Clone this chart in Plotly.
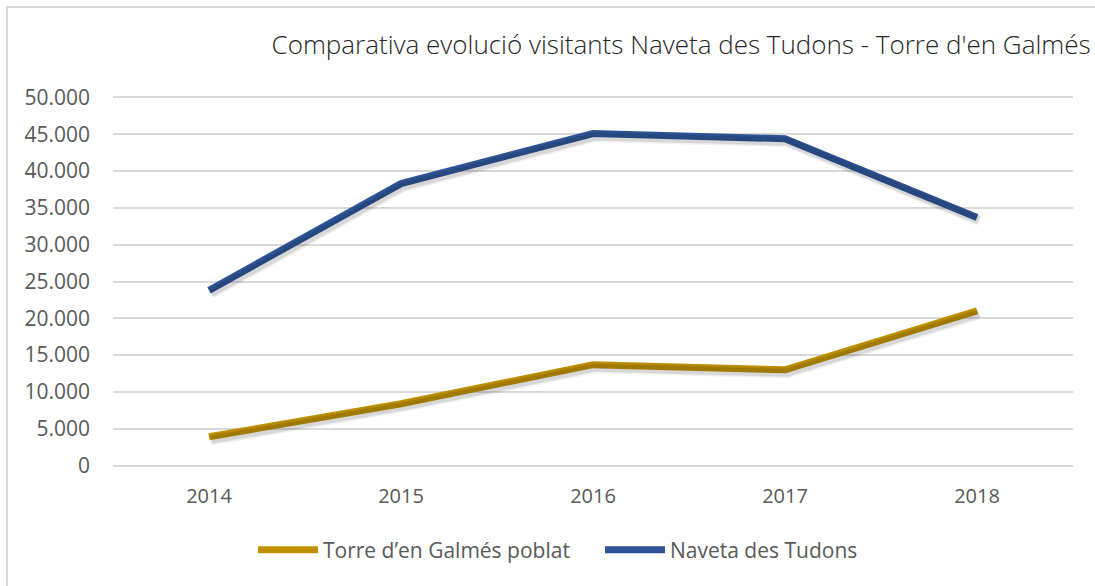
import plotly.graph_objects as go

# Visitor counts per year
years = ["2014", "2015", "2016", "2017", "2018"]
torre_galmes = [3900, 8400, 13700, 13000, 21000]
naveta_tudons = [23800, 38300, 45100, 44400, 33700]

series = [
    ("Torre d\u2019en Galmés poblat", torre_galmes, "#BF9000"),
    ("Naveta des Tudons", naveta_tudons, "#2F5597"),
]

W, H = 1095, 586
L, R, T, B = 113, 22, 96, 119
plot_w, plot_h = W - L - R, H - T - B
y_max = 50000
y_pad = 200  # keeps the 0 and 50.000 gridlines inside the plot area
y_range = [-y_pad, y_max + y_pad]
x_range = [-0.5, 4.5]

# small offset for the drop shadow (in pixels) converted to axis units
dx_px, dy_px = 2, 3
dx = dx_px * (x_range[1] - x_range[0]) / plot_w
dy = dy_px * (y_range[1] - y_range[0]) / plot_h

fig = go.Figure()

# soft shadows under the lines, drawn on slightly shifted overlay axes
for name, vals, color in series:
    for w, a in [(11, 0.06), (8, 0.10)]:
        fig.add_trace(go.Scatter(
            x=years, y=vals, mode="lines", xaxis="x2", yaxis="y2",
            line=dict(color=f"rgba(0,0,0,{a})", width=w),
            showlegend=False, hoverinfo="skip",
        ))

for name, vals, color in series:
    fig.add_trace(go.Scatter(
        x=years, y=vals, mode="lines", name=name,
        line=dict(color=color, width=7),
    ))

font_family = "Open Sans, Liberation Sans, sans-serif"

fig.update_layout(
    width=W, height=H,
    margin=dict(l=L, r=R, t=T, b=B),
    paper_bgcolor="white", plot_bgcolor="white",
    separators=",.",
    font=dict(family=font_family, size=20, color="#595959"),
    title=dict(
        text="Comparativa evolució visitants Naveta des Tudons - Torre d'en Galmés",
        xref="container", yref="container", x=0.622, y=1 - 45 / H,
        xanchor="center", yanchor="middle",
        font=dict(family=font_family, size=26, color="#262626", weight=300),
    ),
    xaxis=dict(
        type="category", range=x_range, showgrid=False, zeroline=False,
        showline=False, ticks="", ticklabelstandoff=15,
        tickfont=dict(size=20, color="#595959"),
    ),
    yaxis=dict(
        range=y_range, tickvals=list(range(0, y_max + 1, 5000)), tickformat=",d",
        showgrid=True, gridcolor="#D9D9D9", gridwidth=1.5,
        zeroline=False, showline=False, ticks="", ticklabelstandoff=22,
        tickfont=dict(size=21, color="#595959"),
    ),
    xaxis2=dict(
        type="category", overlaying="x", range=[x_range[0] - dx, x_range[1] - dx],
        visible=False,
    ),
    yaxis2=dict(
        overlaying="y", range=[y_range[0] + dy, y_range[1] + dy], visible=False,
    ),
    legend=dict(
        orientation="h", x=(253 - L) / plot_w, y=(H - B - 550) / plot_h,
        xanchor="left", yanchor="middle",
        font=dict(size=21, color="#595959"),
        itemwidth=60,
        entrywidth=272, entrywidthmode="pixels",
        traceorder="normal",
    ),
    showlegend=True,
    shapes=[
        dict(
            type="rect", xref="paper", yref="paper",
            x0=(7 - L) / plot_w, x1=1.2,
            y0=-0.6, y1=(H - B - 7) / plot_h,
            line=dict(color="#D9D9D9", width=2), fillcolor="rgba(0,0,0,0)",
            layer="below",
        )
    ],
)

fig.write_html("out.html")
